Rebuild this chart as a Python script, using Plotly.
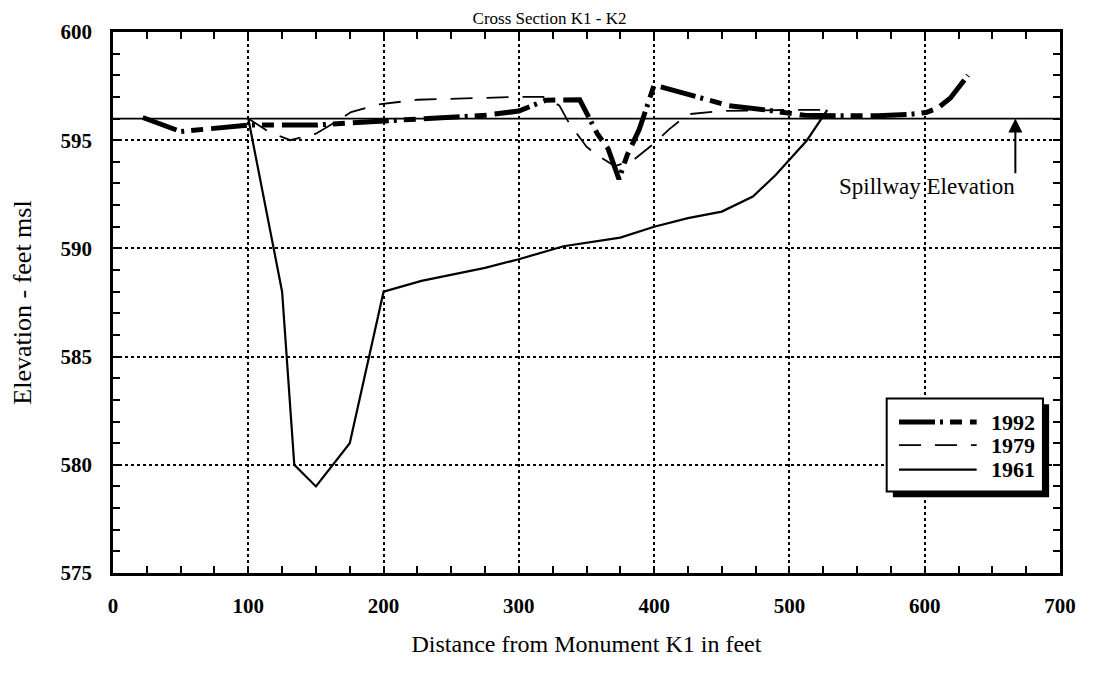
import plotly.graph_objects as go

# ---- data ----
x_1992 = [22, 50, 100, 125, 150, 175, 200, 250, 275, 300, 320, 345, 358, 366, 374, 380, 389, 400,
          414, 430, 455, 482, 511, 535, 565, 590, 601, 610, 619, 632]
y_1992 = [596.05, 595.4, 595.7, 595.7, 595.7, 595.8, 595.9, 596.05, 596.15, 596.35, 596.85, 596.87,
          595.3, 594.6, 593.2, 594.3, 595.5, 597.55, 597.3, 597.0, 596.6, 596.4, 596.15, 596.13,
          596.13, 596.2, 596.28, 596.5, 596.95, 598.0]

x_1979 = [100, 115, 131, 150, 162, 176, 196, 225, 300, 318, 330, 337, 350, 358, 371, 385, 399, 411,
          425, 450, 500, 532]
y_1979 = [596.0, 595.4, 595.0, 595.3, 595.75, 596.3, 596.65, 596.87, 597.0, 597.0, 596.6, 595.8,
          594.7, 594.3, 593.8, 594.1, 594.8, 595.5, 596.2, 596.35, 596.4, 596.4]

x_1961 = [100, 125, 134, 150, 175, 200, 228, 275, 300, 333, 375, 400, 425, 450, 473, 490, 513, 528]
y_1961 = [596.0, 588.0, 580.0, 579.0, 581.0, 588.0, 588.5, 589.1, 589.5, 590.1, 590.5, 591.0, 591.4,
          591.7, 592.4, 593.4, 595.0, 596.4]

series_names = ["1992", "1979", "1961"]
SPILLWAY = 596
spill_label = "Spillway Elevation"
spill_label_xy = (602, 592.85)
spill_arrow_x = 667
spill_arrow_tail = 593.4

x_ticks = [0, 100, 200, 300, 400, 500, 600, 700]
y_ticks = [575, 580, 585, 590, 595, 600]

title_text = "Cross Section K1 - K2"
x_title = "Distance from Monument K1 in feet"
y_title = "Elevation - feet msl"

FONT = "Liberation Serif, Times New Roman, serif"
DASH_1992 = "36px,5px,3px,7px,12px,8px"
DASH_1979 = "22px,14px"
styles = {
    "1992": dict(color="black", width=5, dash=DASH_1992),
    "1979": dict(color="black", width=1.8, dash=DASH_1979),
    "1961": dict(color="black", width=2.2, dash="solid"),
}

fig = go.Figure()
for name, xs, ys in [("1992", x_1992, y_1992), ("1979", x_1979, y_1979), ("1961", x_1961, y_1961)]:
    fig.add_trace(go.Scatter(x=xs, y=ys, mode="lines", name=name, line=styles[name],
                             showlegend=False))

# spillway reference line
fig.add_shape(type="line", xref="paper", x0=0, x1=1, yref="y", y0=SPILLWAY, y1=SPILLWAY,
              line=dict(color="black", width=1.8), layer="above")

# spillway annotation with arrow
fig.add_annotation(x=spill_arrow_x, y=SPILLWAY, ax=spill_arrow_x, ay=spill_arrow_tail,
                   axref="x", ayref="y", xref="x", yref="y", text="", showarrow=True,
                   arrowhead=2, arrowsize=1.4, arrowwidth=2, arrowcolor="black")
fig.add_annotation(x=spill_label_xy[0], y=spill_label_xy[1], xref="x", yref="y",
                   text=spill_label, showarrow=False,
                   font=dict(family=FONT, size=23, color="black"))

# manual legend box with drop shadow
box = dict(x0=0.817, x1=0.982, y0=0.1507, y1=0.3227)
shadow_dx, shadow_dy = 0.0065, 0.0106
fig.add_shape(type="rect", xref="paper", yref="paper",
              x0=box["x0"] + shadow_dx, x1=box["x1"] + shadow_dx,
              y0=box["y0"] - shadow_dy, y1=box["y1"] - shadow_dy,
              fillcolor="black", line=dict(color="black", width=0), layer="above")
fig.add_shape(type="rect", xref="paper", yref="paper", **box,
              fillcolor="white", line=dict(color="black", width=2), layer="above")
row_y = [0.2789, 0.2363, 0.1910]
for name, yy in zip(series_names, row_y):
    st = styles[name]
    fig.add_shape(type="line", xref="paper", yref="paper", x0=0.830, x1=0.912, y0=yy, y1=yy,
                  line=dict(color="black", width=st["width"], dash=st["dash"]), layer="above")
    fig.add_annotation(xref="paper", yref="paper", x=0.925, y=yy, text=name, showarrow=False,
                       xanchor="left", yanchor="middle",
                       font=dict(family=FONT, size=22, color="black", weight="bold"))

axis_common = dict(
    showline=True, linecolor="black", linewidth=2.5, mirror="ticks",
    ticks="inside", ticklen=7, tickwidth=2, tickcolor="black",
    showgrid=True, gridcolor="black", gridwidth=1.5, griddash="dot",
    zeroline=False,
    tickfont=dict(family=FONT, size=21, color="black", weight="bold"),
)

fig.update_xaxes(range=[0, 700], tickvals=x_ticks, ticktext=[str(v) for v in x_ticks],
                 minor=dict(dtick=25, ticks="inside", ticklen=7, tickwidth=2, tickcolor="black",
                            showgrid=False),
                 ticklabelstandoff=12,
                 title=dict(text=x_title, font=dict(family=FONT, size=24, color="black"),
                            standoff=19),
                 **axis_common)
fig.update_yaxes(range=[575, 600], tickvals=y_ticks, ticktext=[str(v) for v in y_ticks],
                 minor=dict(dtick=1, ticks="inside", ticklen=7, tickwidth=2, tickcolor="black",
                            showgrid=False),
                 ticklabelstandoff=14,
                 title=dict(text=y_title, font=dict(family=FONT, size=26, color="black"),
                            standoff=22),
                 **axis_common)

# page body adds an 8px margin, so the figure is 16px smaller than the window
fig.update_layout(
    width=1080, height=658,
    margin=dict(l=105, r=19, t=23, b=71),
    paper_bgcolor="white", plot_bgcolor="white",
    title=dict(text=title_text, xref="paper", x=0.461, xanchor="center",
               yref="container", y=0.994, yanchor="top", pad=dict(t=0, b=0),
               font=dict(family=FONT, size=17, color="black")),
    showlegend=False,
)

fig.write_html("out.html")
